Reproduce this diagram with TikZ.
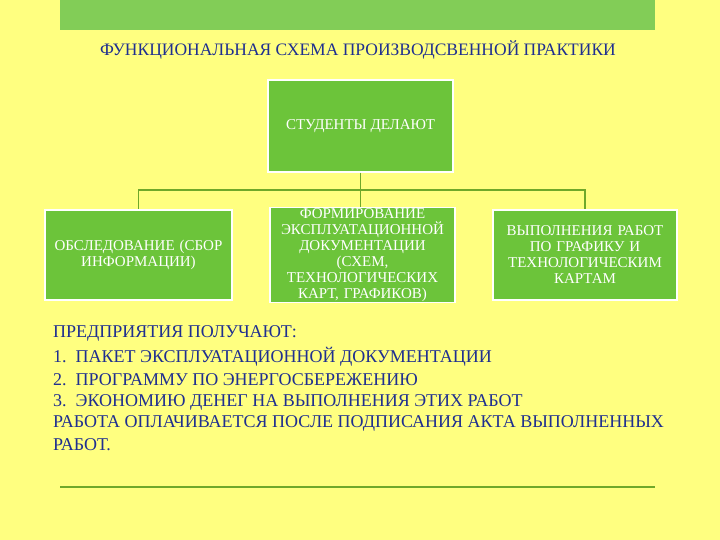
\documentclass[tikz,border=0pt]{standalone}
\usepackage{fontspec}
\setmainfont{Liberation Serif}
\begin{document}
\begin{tikzpicture}[x=1pt,y=-1pt,
 gbox/.style={draw=white,line width=1.5pt,fill=boxg,text=white,align=center,font=\fontsize{15}{16}\selectfont,inner sep=1pt},
 conn/.style={draw=lineg,line width=1.8pt},
 body/.style={anchor=west,text=bodyb,font=\fontsize{18}{20}\selectfont,inner sep=0}]
\definecolor{bg}{HTML}{FFFF80}
\definecolor{boxg}{HTML}{6CC43A}
\definecolor{lineg}{HTML}{6FA82A}
\definecolor{bodyb}{HTML}{1F2F90}
\useasboundingbox (0,0) rectangle (720,540);
\fill[bg] (0,0) rectangle (720,540);
\fill[boxg!85!white] (60,0) rectangle (655,30);
\node[font=\fontsize{17.5}{20}\selectfont,text=bodyb] (title) at (358,50) {ФУНКЦИОНАЛЬНАЯ СХЕМА ПРОИЗВОДСВЕННОЙ ПРАКТИКИ};
\node[gbox,minimum width=185pt,minimum height=92pt] (top) at (360.5,126) {СТУДЕНТЫ ДЕЛАЮТ};
\node[gbox,minimum width=187pt,minimum height=90pt,text width=185pt] (b1) at (138.5,255) {ОБСЛЕДОВАНИЕ (СБОР\\ИНФОРМАЦИИ)};
\node[gbox,minimum width=185pt,minimum height=90pt,text width=180pt] (b2) at (362.5,255) {ФОРМИРОВАНИЕ\\ЭКСПЛУАТАЦИОННОЙ\\ДОКУМЕНТАЦИИ\\(СХЕМ,\\ТЕХНОЛОГИЧЕСКИХ\\КАРТ, ГРАФИКОВ)};
\node[gbox,minimum width=184pt,minimum height=90pt,text width=180pt] (b3) at (585,255) {ВЫПОЛНЕНИЯ РАБОТ\\ПО ГРАФИКУ И\\ТЕХНОЛОГИЧЕСКИМ\\КАРТАМ};
\coordinate (j) at (360.5,190);
\draw[conn] (top.south) -- (j);
\draw[conn] (j) -| (b1.north);
\draw[conn] (j) -| (b3.north);
\draw[conn] (j) -- (j |- b2.north);
\node[body] (t1) at (53,333) {ПРЕДПРИЯТИЯ ПОЛУЧАЮТ:};
\node[body] (t2) at (53,357) {1.\ \ ПАКЕТ ЭКСПЛУАТАЦИОННОЙ ДОКУМЕНТАЦИИ};
\node[body] (t3) at (53,380) {2.\ \ ПРОГРАММУ ПО ЭНЕРГОСБЕРЕЖЕНИЮ};
\node[body] (t4) at (53,402) {3.\ \ ЭКОНОМИЮ ДЕНЕГ НА ВЫПОЛНЕНИЯ ЭТИХ РАБОТ};
\node[body] (t5) at (53,423) {РАБОТА ОПЛАЧИВАЕТСЯ ПОСЛЕ ПОДПИСАНИЯ АКТА ВЫПОЛНЕННЫХ};
\node[body] (t6) at (53,445) {РАБОТ.};
\draw[lineg,line width=1.5pt] (60,487) -- (655,487);
\end{tikzpicture}
\end{document}
